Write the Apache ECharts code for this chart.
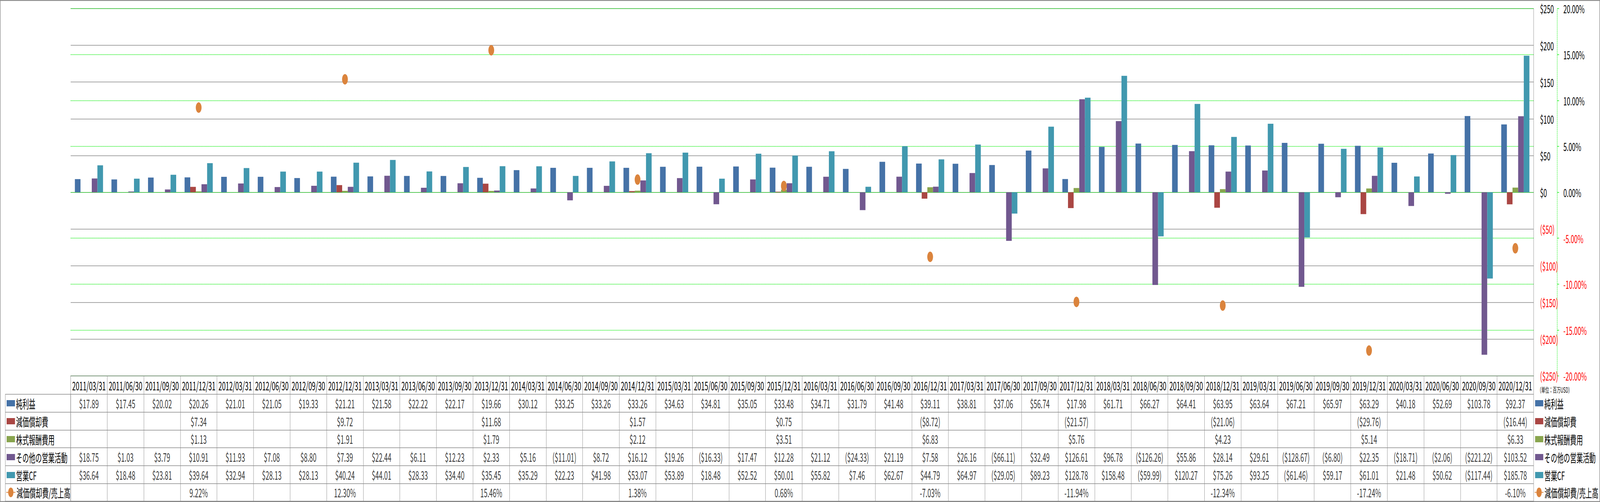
<!DOCTYPE html>
<html>
<head>
<meta charset="utf-8">
<script src="https://cdn.jsdelivr.net/npm/echarts@6/dist/echarts.min.js"></script>
<style>
html,body{margin:0;padding:0;background:#fff;overflow:hidden;}
#c{width:7472px;height:1286px;transform-origin:0 0;}
</style>
</head>
<body>
<div id="c"></div>
<script>
// ---------- data ----------
const categories = [
  '2011/03/31','2011/06/30','2011/09/30','2011/12/31',
  '2012/03/31','2012/06/30','2012/09/30','2012/12/31',
  '2013/03/31','2013/06/30','2013/09/30','2013/12/31',
  '2014/03/31','2014/06/30','2014/09/30','2014/12/31',
  '2015/03/31','2015/06/30','2015/09/30','2015/12/31',
  '2016/03/31','2016/06/30','2016/09/30','2016/12/31',
  '2017/03/31','2017/06/30','2017/09/30','2017/12/31',
  '2018/03/31','2018/06/30','2018/09/30','2018/12/31',
  '2019/03/31','2019/06/30','2019/09/30','2019/12/31',
  '2020/03/31','2020/06/30','2020/09/30','2020/12/31'
];
const netIncome = [
  17.89,17.45,20.02,20.26, 21.01,21.05,19.33,21.21, 21.58,22.22,22.17,19.66,
  30.12,33.25,33.26,33.26, 34.63,34.81,35.05,33.48, 34.71,31.79,41.48,39.11,
  38.81,37.06,56.74,17.98, 61.71,66.27,64.41,63.95, 63.64,67.21,65.97,63.29,
  40.18,52.69,103.78,92.37
];
const depreciation = [
  null,null,null,7.34, null,null,null,9.72, null,null,null,11.68,
  null,null,null,1.57, null,null,null,0.75, null,null,null,-8.72,
  null,null,null,-21.57, null,null,null,-21.06, null,null,null,-29.76,
  null,null,null,-16.44
];
const stockComp = [
  null,null,null,1.13, null,null,null,1.91, null,null,null,1.79,
  null,null,null,2.12, null,null,null,3.51, null,null,null,6.83,
  null,null,null,5.76, null,null,null,4.23, null,null,null,5.14,
  null,null,null,6.33
];
const otherOps = [
  18.75,1.03,3.79,10.91, 11.93,7.08,8.80,7.39, 22.44,6.11,12.23,2.33,
  5.16,-11.01,8.72,16.12, 19.26,-16.33,17.47,12.28, 21.12,-24.33,21.19,7.58,
  26.16,-66.11,32.49,126.61, 96.78,-126.26,55.86,28.14, 29.61,-128.67,-6.80,22.35,
  -18.71,-2.06,-221.22,103.52
];
const operatingCF = [
  36.64,18.48,23.81,39.64, 32.94,28.13,28.13,40.24, 44.01,28.33,34.40,35.45,
  35.29,22.23,41.98,53.07, 53.89,18.48,52.52,50.01, 55.82,7.46,62.67,44.79,
  64.97,-29.05,89.23,128.78, 158.48,-59.99,120.27,75.26, 93.25,-61.46,59.17,61.01,
  21.48,50.62,-117.44,185.78
];
const depRatio = [
  null,null,null,9.22, null,null,null,12.30, null,null,null,15.46,
  null,null,null,1.38, null,null,null,0.68, null,null,null,-7.03,
  null,null,null,-11.94, null,null,null,-12.34, null,null,null,-17.24,
  null,null,null,-6.10
];
const seriesNames = ['純利益','減価償却費','株式報酬費用','その他の営業活動','営業CF','減価償却費/売上高'];
const unitLabel = '（単位：百万USD）';
const dollarAxis = {min: -250, max: 250, interval: 50};
const pctAxis = {min: -20, max: 20, interval: 5};

// ---------- style / layout ----------
const colors = ['#4572A7','#AA4643','#89A54E','#71588F','#4198AF','#DB843D'];
const FONT = "'Noto Sans CJK JP','Noto Sans',sans-serif";
const GRAY = '#888888';
const GREEN = '#11EE11';
const W = 7472, H = 1286;
const PLOT_L = 330, PLOT_R = 7162, PLOT_T = 22, PLOT_B = 963;
const TBL_T = 1010, TBL_B = 1284;
const ROW_H = (TBL_B - TBL_T) / 6;

// fit the fixed-size drawing into the actual window
(function fit() {
  const el = document.getElementById('c');
  const sx = Math.min(1, window.innerWidth / W);
  const sy = Math.min(1, window.innerHeight / H);
  el.style.transform = 'scale(' + sx + ',' + sy + ')';
})();

const barSeriesData = [netIncome, depreciation, stockComp, otherOps, operatingCF];
const tableRows = [netIncome, depreciation, stockComp, otherOps, operatingCF, depRatio];

function fmtDollar(v) {
  return v < 0 ? '($' + (-v).toFixed(2) + ')' : '$' + v.toFixed(2);
}
function fmtPct(v) { return v.toFixed(2) + '%'; }

const series = [];
barSeriesData.forEach((arr, k) => {
  series.push({
    name: seriesNames[k], type: 'bar', xAxisIndex: 0, yAxisIndex: 0,
    data: arr, barGap: '0%', barCategoryGap: '23%',
    itemStyle: {color: colors[k]}, silent: true
  });
});
series.push({
  name: seriesNames[5], type: 'line', xAxisIndex: 0, yAxisIndex: 1,
  data: depRatio, connectNulls: false, symbol: 'circle', symbolSize: 27,
  showSymbol: true, showAllSymbol: true,
  itemStyle: {color: colors[5]},
  lineStyle: {color: colors[5], width: 7}, silent: true, z: 5
});
tableRows.forEach((arr, r) => {
  const d = [];
  arr.forEach((v, i) => { if (v !== null) d.push([i, r, v]); });
  series.push({
    name: 'tbl' + r, type: 'scatter', xAxisIndex: 1, yAxisIndex: 2,
    data: d, symbolSize: 1, itemStyle: {color: 'rgba(0,0,0,0)'}, silent: true,
    label: {
      show: true, position: 'inside', color: '#000', fontSize: 30, fontFamily: FONT,
      formatter: p => r === 5 ? fmtPct(p.value[2]) : fmtDollar(p.value[2])
    }
  });
});

const legendText = {fontSize: 30, fontFamily: FONT, color: '#000', lineHeight: 46};
const barNames = seriesNames.slice(0, 5);

const option = {
  animation: false,
  backgroundColor: '#fff',
  legend: [
    {left: 31, top: TBL_T, orient: 'vertical', padding: 0, itemGap: 0, itemWidth: 39, itemHeight: 16,
     icon: 'rect', selectedMode: false, data: barNames, textStyle: legendText},
    {left: 28, top: TBL_T + 5 * ROW_H, orient: 'vertical', padding: 0, itemGap: 0, itemWidth: 43, itemHeight: 31,
     selectedMode: false, data: [seriesNames[5]], textStyle: legendText},
    {left: 7169, top: TBL_T, orient: 'vertical', padding: 0, itemGap: 0, itemWidth: 38, itemHeight: 16,
     icon: 'rect', selectedMode: false, data: barNames, textStyle: legendText},
    {left: 7166, top: TBL_T + 5 * ROW_H, orient: 'vertical', padding: 0, itemGap: 0, itemWidth: 41, itemHeight: 31,
     selectedMode: false, data: [seriesNames[5]], textStyle: legendText}
  ],
  grid: [
    {left: PLOT_L, right: W - PLOT_R, top: PLOT_T, bottom: H - PLOT_B, containLabel: false},
    {left: PLOT_L, right: W - PLOT_R, top: TBL_T, bottom: H - TBL_B, containLabel: false}
  ],
  xAxis: [
    {
      type: 'category', gridIndex: 0, data: categories, boundaryGap: true, position: 'bottom',
      axisLine: {show: true, onZero: false, lineStyle: {color: GRAY, width: 1.5}},
      axisTick: {show: true, interval: 0, length: TBL_T - PLOT_B, inside: false, lineStyle: {color: GRAY, width: 1.5}},
      axisLabel: {interval: 0, margin: 24, verticalAlign: 'middle', fontSize: 30, fontFamily: FONT, color: '#000'},
      splitLine: {show: false}
    },
    {
      type: 'category', gridIndex: 1, data: categories, boundaryGap: true, position: 'bottom',
      axisLine: {show: true, lineStyle: {color: GRAY, width: 1.5}},
      axisTick: {show: false}, axisLabel: {show: false},
      splitLine: {show: true, interval: 0, lineStyle: {color: GRAY, width: 1.5}}
    }
  ],
  yAxis: [
    {
      type: 'value', gridIndex: 0, position: 'right',
      min: dollarAxis.min, max: dollarAxis.max, interval: dollarAxis.interval,
      axisLine: {show: true, lineStyle: {color: GRAY, width: 1.5}},
      axisTick: {show: false},
      axisLabel: {
        margin: 30, fontSize: 29, fontFamily: FONT,
        formatter: v => v < 0 ? '($' + (-v) + ')' : '$' + v,
        color: v => (v < 0 ? '#FF0000' : '#000')
      },
      splitLine: {show: true, lineStyle: {color: GRAY, width: 1.5}}
    },
    {
      type: 'value', gridIndex: 0, position: 'right', offset: 110,
      min: pctAxis.min, max: pctAxis.max, interval: pctAxis.interval,
      axisLine: {show: true, lineStyle: {color: GREEN, width: 1.5, type: [3, 2]}},
      axisTick: {show: true, length: 9, inside: false, lineStyle: {color: GREEN, width: 1.5}},
      axisLabel: {
        margin: 29, fontSize: 29, fontFamily: FONT,
        formatter: v => v.toFixed(2) + '%',
        color: v => (v < 0 ? '#FF0000' : '#000')
      },
      splitLine: {show: true, lineStyle: {color: GREEN, width: 1.5, type: [4, 2]}}
    },
    {
      type: 'category', gridIndex: 1, data: seriesNames, inverse: true, boundaryGap: true,
      axisLine: {show: true, lineStyle: {color: GRAY, width: 1.5}},
      axisTick: {show: true, interval: 0, length: PLOT_L - 25, inside: false, lineStyle: {color: GRAY, width: 1.5}},
      axisLabel: {show: false},
      splitLine: {show: true, interval: 0, lineStyle: {color: GRAY, width: 1.5}}
    },
    {
      type: 'value', gridIndex: 1, position: 'left', offset: PLOT_L - 25,
      axisLine: {show: true, lineStyle: {color: GRAY, width: 1.5}},
      axisTick: {show: false}, axisLabel: {show: false}, splitLine: {show: false}
    }
  ],
  graphic: [
    {type: 'rect', shape: {x: 1, y: 1, width: W - 2, height: H - 2},
     style: {fill: 'none', stroke: GRAY, lineWidth: 2.5}, silent: true, z: 100},
    {type: 'text', x: 7180, y: 998, silent: true, z: 50,
     style: {text: unitLabel, fill: '#000', fontSize: 18, fontFamily: FONT,
             align: 'left', verticalAlign: 'middle', textAlign: 'left', textVerticalAlign: 'middle'}}
  ],
  series: series
};

const chart = echarts.init(document.getElementById('c'), null, {renderer: 'svg', width: W, height: H});
chart.setOption(option);
</script>
</body>
</html>
